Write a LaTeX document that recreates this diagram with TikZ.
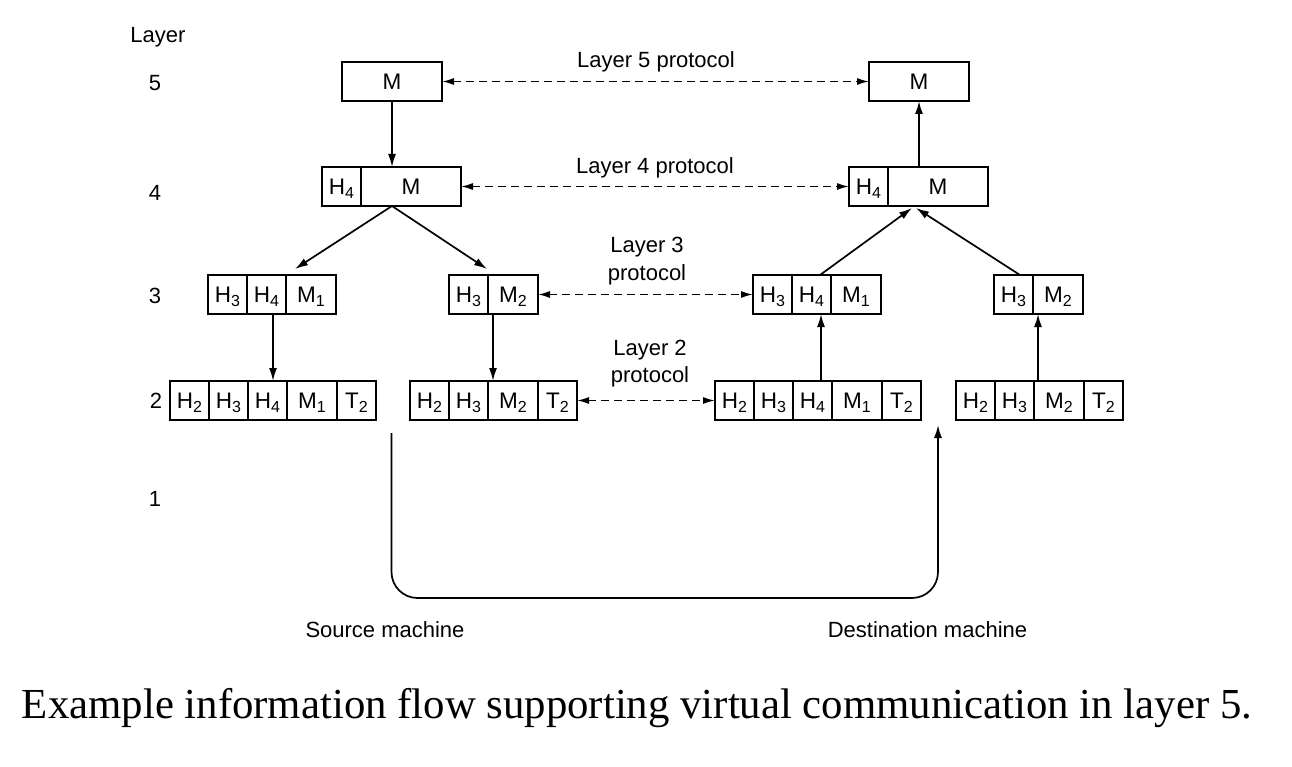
\documentclass[tikz,border=0pt]{standalone}
\usepackage{fontspec}
\setmainfont{Liberation Serif}
\setsansfont{Liberation Sans}
\usetikzlibrary{arrows.meta,positioning,calc}
\newcommand{\sbx}[1]{\raisebox{-4pt}{\fontsize{16}{16}\selectfont #1}}
\begin{document}
\begin{tikzpicture}[x=1pt,y=-1pt,
  cell/.style={draw, line width=1.6pt, minimum height=39pt, inner sep=0pt, outer sep=0pt,
    text height=15.8pt, text depth=0pt, font=\sffamily\fontsize{22.5}{26}\selectfont},
  wa/.style={cell, minimum width=39pt},
  wb/.style={cell, minimum width=50pt},
  wc/.style={cell, minimum width=100pt},
  lbl/.style={font=\sffamily\fontsize{22}{28}\selectfont, inner sep=0pt, anchor=base},
  flow/.style={line width=1.7pt, -{Latex[length=13pt,width=8pt]}},
  proto/.style={line width=1.5pt, dash pattern=on 8pt off 5pt,
    {Latex[length=12pt,width=7pt]}-{Latex[length=12pt,width=7pt]}},
]
\useasboundingbox (0,0) rectangle (1292,767);

% layer labels
\node[lbl] (hdr) at (158,43) {Layer};
\node[lbl] (n5) at (155,91) {5};
\node[lbl] (n4) at (155,201) {4};
\node[lbl] (n3) at (155,303) {3};
\node[lbl] (n2) at (156,408) {2};
\node[lbl] (n1) at (155,506) {1};

% layer 5
\node[wc] (l5a) at (392,81.5) {M};
\node[wc] (l5b) at (919,81.5) {M};

% layer 4
\node[wa] (l4aH4) at (341.5,186.5) {H\sbx{4}};
\node[wc, right=0pt of l4aH4] (l4aM) {M};
\node[wa] (l4bH4) at (868.5,186.5) {H\sbx{4}};
\node[wc, right=0pt of l4bH4] (l4bM) {M};

% layer 3
\node[wa] (l3aH3) at (227.5,294.5) {H\sbx{3}};
\node[wa, right=0pt of l3aH3] (l3aH4) {H\sbx{4}};
\node[wb, right=0pt of l3aH4] (l3aM1) {M\sbx{1}};

\node[wa] (l3bH3) at (468.5,294.5) {H\sbx{3}};
\node[wb, right=0pt of l3bH3] (l3bM2) {M\sbx{2}};

\node[wa] (l3cH3) at (772.5,294.5) {H\sbx{3}};
\node[wa, right=0pt of l3cH3] (l3cH4) {H\sbx{4}};
\node[wb, right=0pt of l3cH4] (l3cM1) {M\sbx{1}};

\node[wa] (l3dH3) at (1013.5,294.5) {H\sbx{3}};
\node[wb, right=0pt of l3dH3] (l3dM2) {M\sbx{2}};

% layer 2
\node[wa] (l2aH2) at (189.5,400.5) {H\sbx{2}};
\node[wa, right=0pt of l2aH2] (l2aH3) {H\sbx{3}};
\node[wa, right=0pt of l2aH3] (l2aH4) {H\sbx{4}};
\node[wb, right=0pt of l2aH4] (l2aM1) {M\sbx{1}};
\node[wa, right=0pt of l2aM1] (l2aT2) {T\sbx{2}};

\node[wa] (l2bH2) at (429.5,400.5) {H\sbx{2}};
\node[wa, right=0pt of l2bH2] (l2bH3) {H\sbx{3}};
\node[wb, right=0pt of l2bH3] (l2bM2) {M\sbx{2}};
\node[wa, right=0pt of l2bM2] (l2bT2) {T\sbx{2}};

\node[wa] (l2cH2) at (734.5,400.5) {H\sbx{2}};
\node[wa, right=0pt of l2cH2] (l2cH3) {H\sbx{3}};
\node[wa, right=0pt of l2cH3] (l2cH4) {H\sbx{4}};
\node[wb, right=0pt of l2cH4] (l2cM1) {M\sbx{1}};
\node[wa, right=0pt of l2cM1] (l2cT2) {T\sbx{2}};

\node[wa] (l2dH2) at (975.5,400.5) {H\sbx{2}};
\node[wa, right=0pt of l2dH2] (l2dH3) {H\sbx{3}};
\node[wb, right=0pt of l2dH3] (l2dM2) {M\sbx{2}};
\node[wa, right=0pt of l2dM2] (l2dT2) {T\sbx{2}};

% protocol labels
\node[lbl] (p5) at (656,68) {Layer 5 protocol};
\node[lbl] (p4) at (655,174) {Layer 4 protocol};
\node[lbl] (p3a) at (647,252) {Layer 3};
\node[lbl] (p3b) at (647,280) {protocol};
\node[lbl] (p2a) at (650,355) {Layer 2};
\node[lbl] (p2b) at (650,382) {protocol};

% protocol arrows
\draw[proto] (l5a.east) -- (l5b.west);
\draw[proto] (l4aM.east) -- (l4bH4.west);
\draw[proto] (l3bM2.east) -- (l3cH3.west);
\draw[proto] (l2bT2.east) -- (l2cH2.west);

% source flow
\draw[flow] (l5a.south) -- (l5a.south |- l4aM.north);
\coordinate (apexL) at (l5a.south |- l4aM.south);
\draw[flow] (apexL) -- ($(l3aH4.north east)+(9,-6)$);
\draw[flow] (apexL) -- ($(l3bH3.north east)+(-1,-6)$);
\coordinate (a1) at ($(l3aH4.south)+(6.5,0)$);
\draw[flow] (a1) -- (a1 |- l2aH4.north);
\coordinate (a2) at ($(l3bH3.south east)+(5,0)$);
\draw[flow] (a2) -- (a2 |- l2bM2.north);

% destination flow
\coordinate (b1) at ($(l2cH4.north)+(8.5,0)$);
\draw[flow] (b1) -- (b1 |- l3cH4.south);
\coordinate (b2) at ($(l2dM2.north west)+(4,0)$);
\draw[flow] (b2) -- (b2 |- l3dM2.south);
\draw[flow] ($(l3cH4.north)+(8.5,0)$) -- ($(l4bM.south west)+(24,2)$);
\draw[flow] ($(l3dH3.north)+(6.5,0)$) -- ($(l4bM.south west)+(28,2)$);
\draw[flow] (l4bM.north -| l5b.south) -- (l5b.south);

% physical medium
\coordinate (src) at (391.5,433);
\coordinate (dst) at (938,425);
\draw[flow, rounded corners=26pt] (src) -- ++(0,165) -| (dst);

\node[lbl] (srcl) at (385,637) {Source machine};
\node[lbl] (dstl) at (927.5,637) {Destination machine};

\node[font=\fontsize{42.8}{50}\selectfont, inner sep=0pt, anchor=base] (cap) at (637,718)
  {Example information flow supporting virtual communication in layer 5.};
\end{tikzpicture}
\end{document}
